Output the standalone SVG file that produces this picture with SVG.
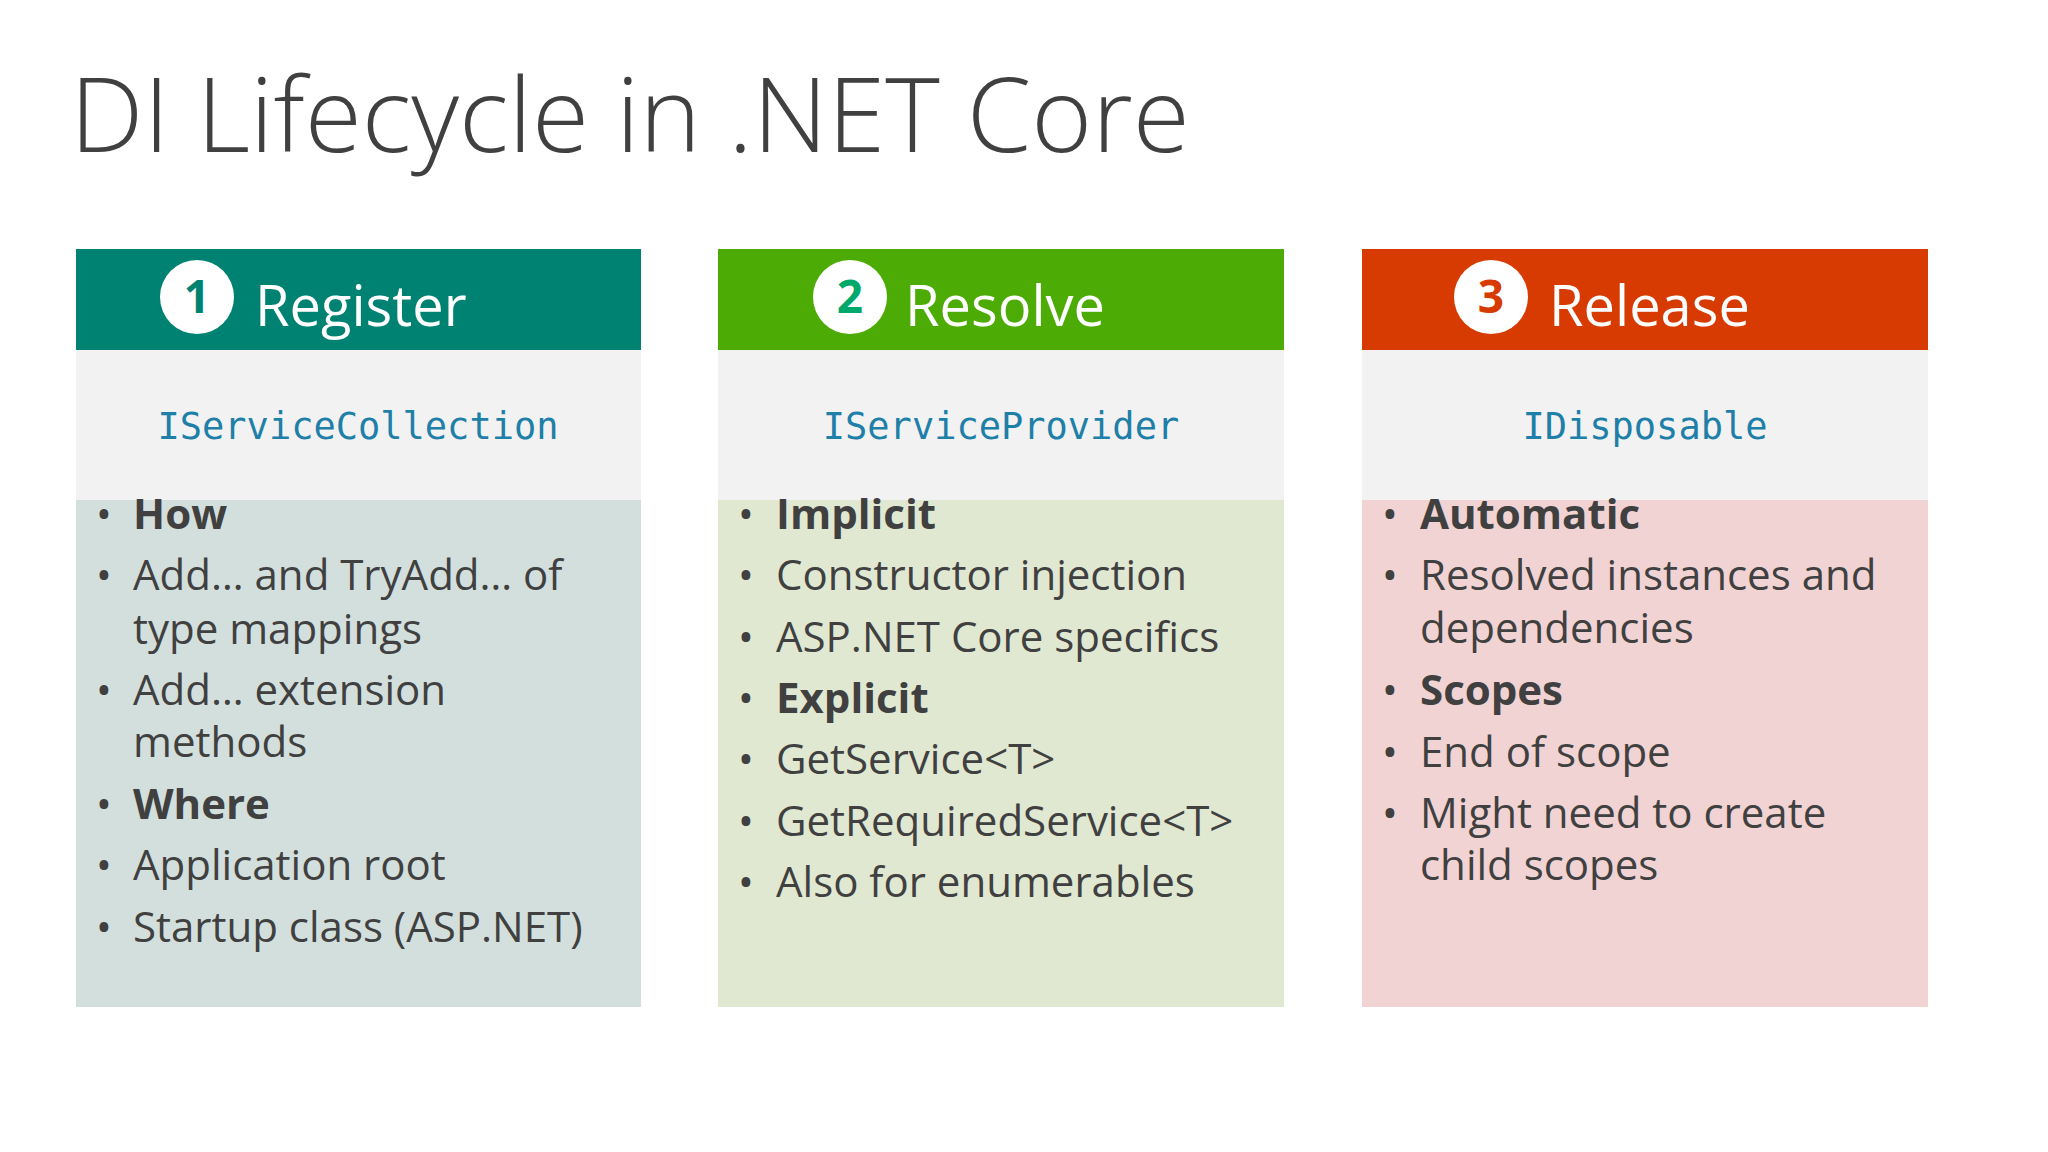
<svg xmlns="http://www.w3.org/2000/svg" width="2048" height="1152" viewBox="0 0 2048 1152">
<style>
.t{font-family:"Open Sans","Noto Sans",sans-serif;fill:#404040}
.title{font-size:104px;font-weight:300}
.hd{font-family:"Open Sans","Noto Sans",sans-serif;font-size:56px;fill:#fff}
.num{font-family:"Open Sans","Noto Sans",sans-serif;font-size:46px;font-weight:700;text-anchor:middle}
.code{font-family:"DejaVu Sans Mono","Liberation Mono",monospace;font-size:37px;fill:#1E7FA8;text-anchor:middle}
.b{font-family:"Open Sans","Noto Sans",sans-serif;font-size:42px;fill:#404040}
.bold{font-weight:700}
.sub{fill:#F2F2F2}
</style>
<rect width="2048" height="1152" fill="#fff"/>
<text class="t title" x="70" y="152">DI Lifecycle in .NET Core</text>
<g id="register">
<rect x="76" y="249" width="565" height="101" fill="#008272"/>
<rect class="sub" x="76" y="350" width="565" height="150"/>
<rect x="76" y="500" width="565" height="507" fill="#D3DFDC"/>
<circle cx="197" cy="297" r="37" fill="#fff"/>
<text class="num" x="197" y="313" fill="#008272">1</text>
<text class="hd" x="255" y="326">Register</text>
<text class="code" x="358" y="439">IServiceCollection</text>
<g class="b">
<text x="96" y="529">•</text><text x="133" y="529" class="bold">How</text>
<text x="96" y="590">•</text><text x="133" y="590">Add… and TryAdd… of</text>
<text x="133" y="644">type mappings</text>
<text x="96" y="705">•</text><text x="133" y="705">Add… extension</text>
<text x="133" y="757">methods</text>
<text x="96" y="819">•</text><text x="133" y="819" class="bold">Where</text>
<text x="96" y="880">•</text><text x="133" y="880">Application root</text>
<text x="96" y="942">•</text><text x="133" y="942">Startup class (ASP.NET)</text>
</g>
</g>
<g id="resolve">
<rect x="718" y="249" width="566" height="101" fill="#4CAB05"/>
<rect class="sub" x="718" y="350" width="566" height="150"/>
<rect x="718" y="500" width="566" height="507" fill="#E0E8D2"/>
<circle cx="850" cy="297" r="37" fill="#fff"/>
<text class="num" x="850" y="313" fill="#00A86B">2</text>
<text class="hd" x="905" y="326">Resolve</text>
<text class="code" x="1001" y="439">IServiceProvider</text>
<g class="b">
<text x="738" y="529">•</text><text x="776" y="529" class="bold">Implicit</text>
<text x="738" y="590">•</text><text x="776" y="590">Constructor injection</text>
<text x="738" y="652">•</text><text x="776" y="652">ASP.NET Core specifics</text>
<text x="738" y="713">•</text><text x="776" y="713" class="bold">Explicit</text>
<text x="738" y="774">•</text><text x="776" y="774">GetService&lt;T&gt;</text>
<text x="738" y="836">•</text><text x="776" y="836">GetRequiredService&lt;T&gt;</text>
<text x="738" y="897">•</text><text x="776" y="897">Also for enumerables</text>
</g>
</g>
<g id="release">
<rect x="1362" y="249" width="566" height="101" fill="#D83B01"/>
<rect class="sub" x="1362" y="350" width="566" height="150"/>
<rect x="1362" y="500" width="566" height="507" fill="#F1D3D3"/>
<circle cx="1491" cy="297" r="37" fill="#fff"/>
<text class="num" x="1491" y="313" fill="#D83B01">3</text>
<text class="hd" x="1549" y="326">Release</text>
<text class="code" x="1645" y="439">IDisposable</text>
<g class="b">
<text x="1382" y="529">•</text><text x="1420" y="529" class="bold">Automatic</text>
<text x="1382" y="590">•</text><text x="1420" y="590">Resolved instances and</text>
<text x="1420" y="643">dependencies</text>
<text x="1382" y="705">•</text><text x="1420" y="705" class="bold">Scopes</text>
<text x="1382" y="767">•</text><text x="1420" y="767">End of scope</text>
<text x="1382" y="828">•</text><text x="1420" y="828">Might need to create</text>
<text x="1420" y="880">child scopes</text>
</g>
</g>
<g id="connectors"/>
</svg>
